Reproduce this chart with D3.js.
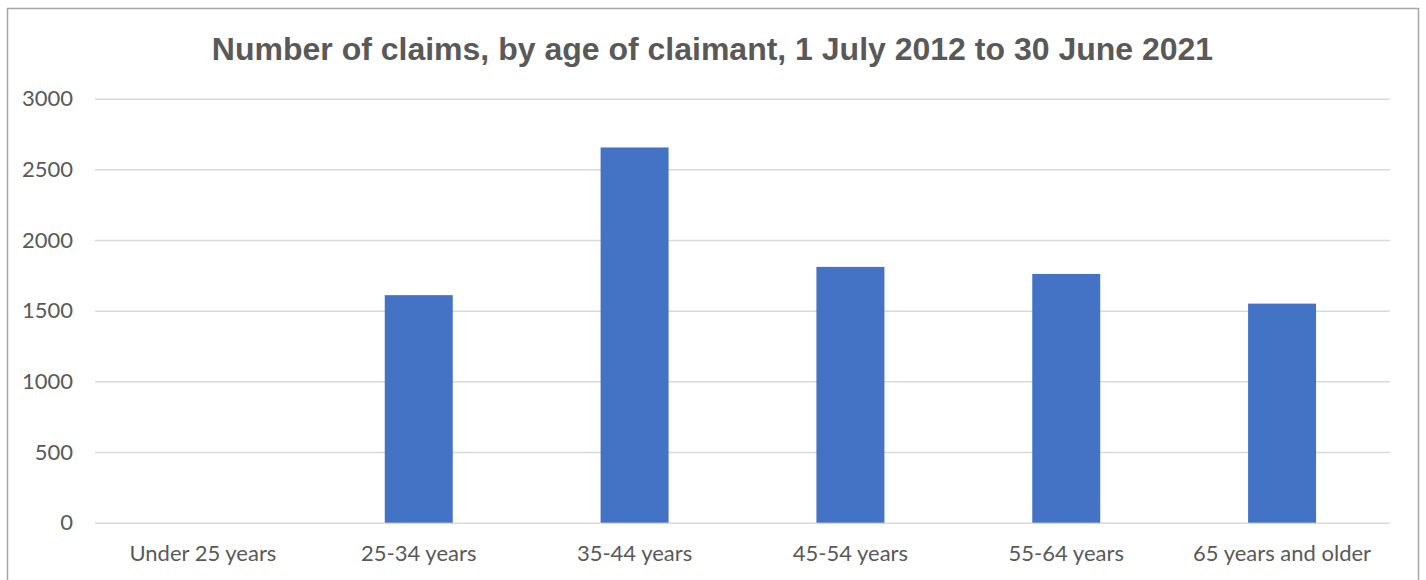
<!DOCTYPE html>
<html>
<head>
<meta charset="utf-8">
<script src="https://cdn.jsdelivr.net/npm/d3@7"></script>
<style>
  html, body { margin: 0; padding: 0; background: #ffffff; }
  svg { display: block; }
</style>
</head>
<body>
<svg id="chart" width="1426" height="580"></svg>
<script>
// Claims by age group
const categories = ["Under 25 years", "25-34 years", "35-44 years", "45-54 years", "55-64 years", "65 years and older"];
const claims = [0, 1610, 2655, 1810, 1760, 1550];
const yTicks = [0, 500, 1000, 1500, 2000, 2500, 3000];
const titleText = "Number of claims, by age of claimant, 1 July 2012 to 30 June 2021";

const W = 1426, H = 580;
const margin = { left: 95, right: 36, top: 98.7, bottom: 57.3 };
const svg = d3.select("#chart");

// outer chart frame
svg.append("rect")
  .attr("x", 7.5).attr("y", 8.5)
  .attr("width", 1411).attr("height", 600)
  .attr("fill", "#ffffff")
  .attr("stroke", "#a6a6a6").attr("stroke-width", 1.5);

const x = d3.scaleBand()
  .domain(categories)
  .range([margin.left, W - margin.right])
  .paddingInner(0.685).paddingOuter(0.3425);

const y = d3.scaleLinear()
  .domain([0, 3000])
  .range([H - margin.bottom, margin.top]);

// gridlines
const grid = svg.append("g")
  .attr("transform", `translate(${margin.left},0)`)
  .call(d3.axisLeft(y).tickValues(yTicks).tickSize(-(W - margin.left - margin.right)).tickFormat(""));
grid.select(".domain").remove();
grid.selectAll(".tick line").attr("stroke", "#d9d9d9").attr("stroke-width", 1.5);

// y tick labels
const yAxis = svg.append("g")
  .attr("transform", `translate(${margin.left - 22},0)`)
  .call(d3.axisLeft(y).tickValues(yTicks).tickSize(0).tickPadding(0).tickFormat(d3.format("d")));
yAxis.select(".domain").remove();
yAxis.selectAll("text")
  .attr("fill", "#595959")
  .style("font-family", "Lato, 'Open Sans', sans-serif")
  .style("font-size", "22px");

// bars
svg.append("g").selectAll("rect")
  .data(categories.map((c, i) => ({ c, v: claims[i] })))
  .join("rect")
  .attr("x", d => x(d.c))
  .attr("width", x.bandwidth())
  .attr("y", d => y(d.v))
  .attr("height", d => y(0) - y(d.v))
  .attr("fill", "#4472c4");

// x axis labels
const xAxis = svg.append("g")
  .attr("transform", `translate(0,${H - margin.bottom})`)
  .call(d3.axisBottom(x).tickSize(0).tickPadding(23));
xAxis.select(".domain").remove();
xAxis.selectAll("text")
  .attr("fill", "#595959")
  .style("font-family", "Lato, 'Open Sans', sans-serif")
  .style("font-size", "22px");

// title
svg.append("text")
  .attr("x", 712.5).attr("y", 60)
  .attr("text-anchor", "middle")
  .attr("fill", "#595959")
  .style("font-family", "'Liberation Sans', Arial, sans-serif")
  .style("font-weight", "bold")
  .style("font-size", "32px")
  .text(titleText);
</script>
</body>
</html>
